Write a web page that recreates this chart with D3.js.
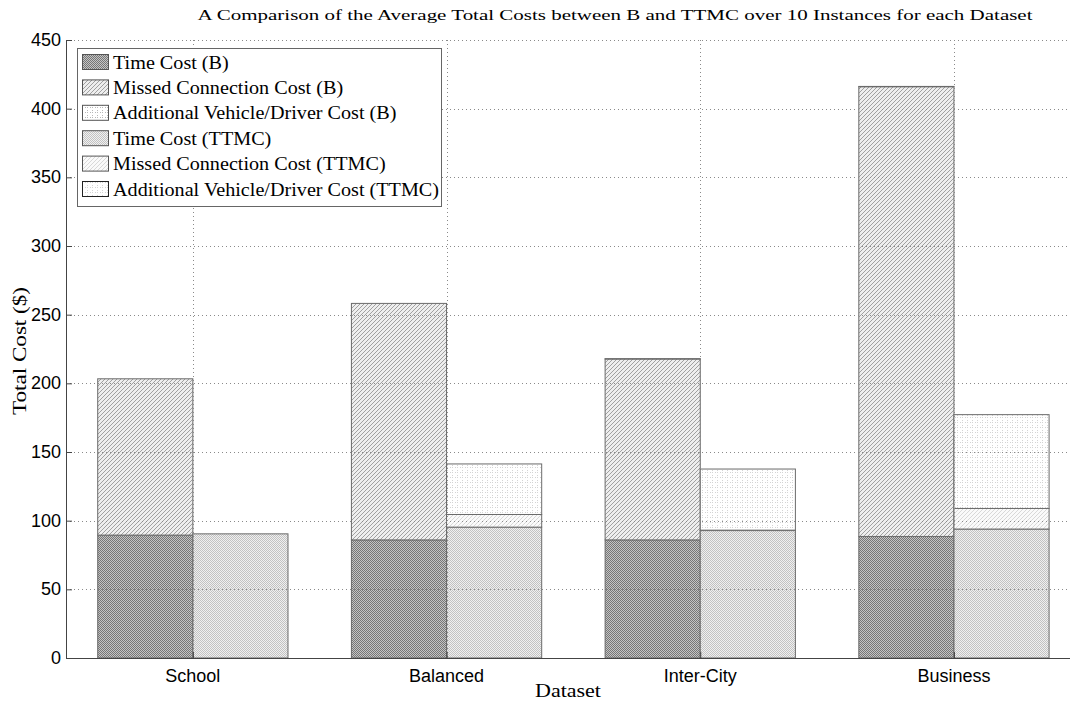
<!DOCTYPE html>
<html lang="en">
<head>
<meta charset="UTF-8">
<title>Average Total Costs B vs TTMC</title>
<style>
  body { margin: 0; background: #fff; }
  svg { display: block; }
  .tick-label { font-family: "Liberation Sans", Arial, sans-serif; font-size: 18px; fill: #000; }
  .serif { font-family: "Liberation Serif", "DejaVu Serif", serif; fill: #000; }
</style>
</head>
<body>
<div id="chart"></div>
<script src="https://d3js.org/d3.v7.min.js"></script>
<script>
// data
const categories = ["School", "Balanced", "Inter-City", "Business"];
const timeB    = [89.5, 86.0, 86.0, 88.5];
const missedB  = [113.8, 172.2, 131.7, 327.5];
const addB     = [0, 0, 0.3, 0.2];
const timeT    = [90.4, 95.3, 92.8, 93.9];
const missedT  = [0, 9.2, 0.3, 15.0];
const addT     = [0, 36.8, 44.5, 68.3];
const yTicks   = [0, 50, 100, 150, 200, 250, 300, 350, 400, 450];
const legendLabels = [
  "Time Cost (B)",
  "Missed Connection Cost (B)",
  "Additional Vehicle/Driver Cost (B)",
  "Time Cost (TTMC)",
  "Missed Connection Cost (TTMC)",
  "Additional Vehicle/Driver Cost (TTMC)"
];

const W = 1070, H = 704;
const plotLeft = 66, plotBottom = 658, plotTop = 40;
const step = 253.7;

const svg = d3.select("#chart").append("svg")
  .attr("width", W).attr("height", H);

const x = d3.scaleLinear().domain([0.5, 4.5]).range([plotLeft, plotLeft + 4 * step]);
const y = d3.scaleLinear().domain([0, 450]).range([plotBottom, plotTop]);

// fill patterns
const defs = svg.append("defs");
function checker(id, a, b) {
  const p = defs.append("pattern").attr("id", id)
    .attr("width", 2).attr("height", 2).attr("patternUnits", "userSpaceOnUse");
  p.append("rect").attr("width", 2).attr("height", 2).attr("fill", b);
  p.append("rect").attr("width", 1).attr("height", 1).attr("fill", a);
  p.append("rect").attr("x", 1).attr("y", 1).attr("width", 1).attr("height", 1).attr("fill", a);
}
function hatch(id, col, bg) {
  const p = defs.append("pattern").attr("id", id)
    .attr("width", 4).attr("height", 4).attr("patternUnits", "userSpaceOnUse");
  p.append("rect").attr("width", 4).attr("height", 4).attr("fill", bg);
  p.append("path").attr("d", "M-1,1 l2,-2 M0,4 l4,-4 M3,5 l2,-2")
    .attr("stroke", col).attr("stroke-width", 1);
}
function dots(id, col) {
  const p = defs.append("pattern").attr("id", id)
    .attr("width", 5).attr("height", 5).attr("patternUnits", "userSpaceOnUse");
  p.append("rect").attr("width", 5).attr("height", 5).attr("fill", "#fff");
  p.append("rect").attr("x", 2).attr("y", 2).attr("width", 1).attr("height", 1).attr("fill", col);
  p.append("rect").attr("x", 2).attr("y", 0).attr("width", 1).attr("height", 1).attr("fill", col);
  p.append("rect").attr("x", 0).attr("y", 2).attr("width", 1).attr("height", 1).attr("fill", col);
}
checker("timeB", "#767676", "#c4c4c4");
hatch("missedB", "#a0a0a0", "#eeeeee");
dots("addB", "#b8b8b8");
checker("timeT", "#c2c2c2", "#f0f0f0");
hatch("missedT", "#d8d8d8", "#fafafa");
dots("addT", "#d4d4d4");

const fills = ["url(#timeB)", "url(#missedB)", "url(#addB)", "url(#timeT)", "url(#missedT)", "url(#addT)"];

// build stacked segments
const segs = [];
categories.forEach((c, i) => {
  const bSeries = [timeB[i], missedB[i], addB[i]];
  const tSeries = [timeT[i], missedT[i], addT[i]];
  let acc = 0;
  bSeries.forEach((v, k) => {
    segs.push({ x0: i + 1 - 0.375, x1: i + 1, y0: acc, y1: acc + v, fill: fills[k] });
    acc += v;
  });
  acc = 0;
  tSeries.forEach((v, k) => {
    segs.push({ x0: i + 1, x1: i + 1.375, y0: acc, y1: acc + v, fill: fills[k + 3] });
    acc += v;
  });
});

svg.append("g").selectAll("rect").data(segs).enter().append("rect")
  .attr("x", d => x(d.x0))
  .attr("width", d => x(d.x1) - x(d.x0))
  .attr("y", d => y(d.y1))
  .attr("height", d => y(d.y0) - y(d.y1))
  .attr("fill", d => d.fill)
  .attr("stroke", "#6a6a6a")
  .attr("stroke-width", 1);

// dotted grid on top of bars
const grid = svg.append("g").attr("stroke", "#8a8a8a").attr("stroke-width", 1)
  .attr("stroke-dasharray", "1,3").attr("fill", "none");
grid.selectAll(".hg").data(yTicks.slice(1)).enter().append("line")
  .attr("x1", plotLeft).attr("x2", W)
  .attr("y1", d => Math.round(y(d)) + 0.5).attr("y2", d => Math.round(y(d)) + 0.5);
grid.selectAll(".vg").data(categories).enter().append("line")
  .attr("x1", (d, i) => Math.round(x(i + 1)) + 0.5).attr("x2", (d, i) => Math.round(x(i + 1)) + 0.5)
  .attr("y1", plotTop).attr("y2", plotBottom);

// axes
const yAxis = svg.append("g").attr("transform", `translate(${plotLeft},0)`)
  .call(d3.axisRight(y).tickValues(yTicks).tickSize(6).tickFormat(""));
yAxis.select(".domain").attr("stroke", "#444");
yAxis.selectAll(".tick line").attr("stroke", "#444");
svg.append("g").selectAll("text").data(yTicks).enter().append("text")
  .attr("class", "tick-label")
  .attr("x", plotLeft - 5).attr("y", d => y(d) + 6)
  .attr("text-anchor", "end")
  .text(d => d);

const xAxis = svg.append("g").attr("transform", `translate(0,${plotBottom})`)
  .call(d3.axisTop(x).tickValues([1, 2, 3, 4]).tickSize(6).tickFormat("").tickSizeOuter(0));
xAxis.select(".domain").attr("stroke", "#444").attr("d", `M${plotLeft},0.5H${W}`);
xAxis.selectAll(".tick line").attr("stroke", "#444");
svg.append("g").selectAll("text").data(categories).enter().append("text")
  .attr("class", "tick-label")
  .attr("x", (d, i) => x(i + 1)).attr("y", plotBottom + 24)
  .attr("text-anchor", "middle")
  .text(d => d);

// titles
svg.append("text").attr("class", "serif")
  .attr("x", 615).attr("y", 20).attr("text-anchor", "middle")
  .attr("font-size", 15.5)
  .attr("textLength", 835).attr("lengthAdjust", "spacingAndGlyphs")
  .text("A Comparison of the Average Total Costs between B and TTMC over 10 Instances for each Dataset");
svg.append("text").attr("class", "serif")
  .attr("x", 568).attr("y", 697).attr("text-anchor", "middle")
  .attr("font-size", 18)
  .attr("textLength", 66).attr("lengthAdjust", "spacingAndGlyphs")
  .text("Dataset");
svg.append("text").attr("class", "serif")
  .attr("transform", "translate(26,351) rotate(-90)")
  .attr("text-anchor", "middle")
  .attr("font-size", 18.5)
  .attr("textLength", 128).attr("lengthAdjust", "spacingAndGlyphs")
  .text("Total Cost ($)");

// legend
const lg = svg.append("g");
lg.append("rect").attr("x", 77.5).attr("y", 48.5).attr("width", 364).attr("height", 158)
  .attr("fill", "#fff").attr("stroke", "#666");
const rowH = 25.4;
const legText = [];
legendLabels.forEach((lab, k) => {
  const cy = 62 + k * rowH;
  lg.append("rect").attr("x", 82.5).attr("y", cy - 7.5).attr("width", 26).attr("height", 15)
    .attr("fill", fills[k]).attr("stroke", k === 5 ? "#222" : "#555");
  legText.push(lg.append("text").attr("class", "serif")
    .attr("x", 113).attr("y", cy + 6.5).attr("font-size", 19)
    .text(lab));
});
// stretch legend text so the longest line ends at the box edge like the original
const widths = legText.map(t => t.node().getComputedTextLength());
const stretch = 326 / d3.max(widths);
legText.forEach((t, k) => t.attr("textLength", widths[k] * stretch).attr("lengthAdjust", "spacingAndGlyphs"));
</script>
</body>
</html>
